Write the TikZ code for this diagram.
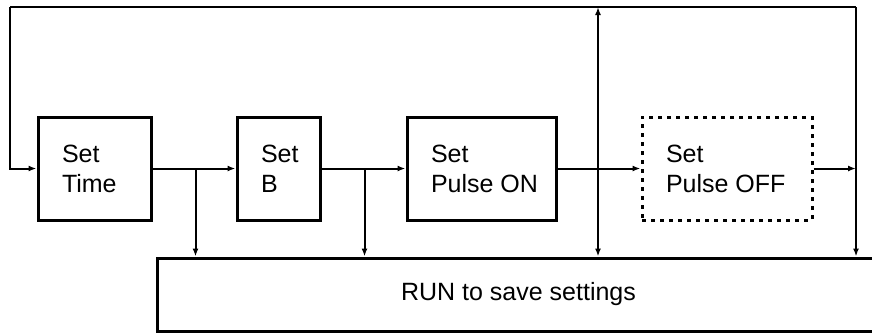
\documentclass[tikz,border=0pt]{standalone}
\usepackage{fontspec}
\setmainfont{Liberation Sans}
\usepackage{tikz}
\usetikzlibrary{arrows.meta, positioning, calc}

\tikzset{
  setbox/.style={draw, line width=3pt, inner xsep=24pt, inner ysep=0pt, align=flush left,
    minimum height=103pt, font=\fontsize{25}{30}\selectfont},
  link/.style={line width=2pt, -{Latex[length=8pt, width=6pt]}},
}

\begin{document}
\begin{tikzpicture}[x=1pt, y=-1pt]

\useasboundingbox (0,0) rectangle (872,333);

% Setting boxes
\node[setbox, text width=65pt]  (time) at (94.5,168.5)  {Set\\Time};
\node[setbox, text width=35pt]  (b)    at (278.5,168.5) {Set\\B};
\node[setbox, text width=101pt] (on)   at (481.5,168.5) {Set\\\mbox{Pulse ON}};
\node[setbox, text width=122pt, dash pattern=on 4pt off 5pt] (off) at (727,168.5) {Set\\\mbox{Pulse OFF}};

\node[draw, line width=3pt, minimum width=723pt, minimum height=73pt,
  font=\fontsize{25}{30}\selectfont] (run) at (518.5,294.5) {RUN to save settings};

% Loop corners
\coordinate (tl) at (10,7);
\coordinate (tr) at (856,7);
\coordinate (mid) at (598,7);

\draw[line width=2pt] (tl) -- (tr);
\draw[link] (tl) |- (time.west);
\draw[link] (tr) -- (tr |- run.north);
\draw[link] (off.east) -- (off.east -| tr);
\draw[line width=2pt, {Latex[length=8pt, width=6pt]}-{Latex[length=8pt, width=6pt]}] (mid) -- (mid |- run.north);

% Chain with branches to RUN
\draw[link] (time.east) -- (b.west);
\draw[link] ($(time.east)+(43,0)$) -- ($(time.east |- run.north)+(43,0)$);
\draw[link] (b.east) -- (on.west);
\draw[link] ($(b.east)+(43,0)$) -- ($(b.east |- run.north)+(43,0)$);
\draw[link] (on.east) -- (off.west);

\end{tikzpicture}
\end{document}
